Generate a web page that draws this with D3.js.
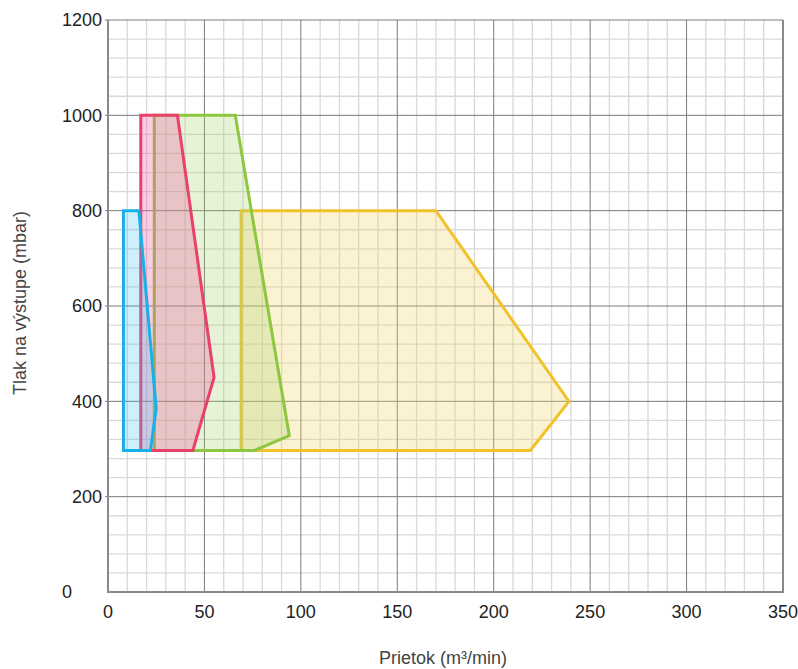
<!DOCTYPE html>
<html>
<head>
<meta charset="utf-8">
<script src="https://cdn.jsdelivr.net/npm/d3@7"></script>
<style>
  body { margin: 0; background: #fff; }
  text { font-family: "Liberation Sans", Arial, sans-serif; }
</style>
</head>
<body>
<div id="chart"></div>
<script>
// operating envelopes, drawn back to front
const seriesNames = ["yellow", "green", "pink", "blue"];
const yellowPts = [[69, 297], [69, 800], [170, 800], [239, 400], [219, 297]];
const greenPts = [[24, 297], [24, 1000], [66, 1000], [94, 328], [76, 297]];
const pinkPts = [[17, 297], [17, 1000], [36, 1000], [55, 450], [44, 297]];
const bluePts = [[8, 297], [8, 800], [16, 800], [25, 385], [22, 297]];
const xTicks = [0, 50, 100, 150, 200, 250, 300, 350];
const yTicks = [0, 200, 400, 600, 800, 1000, 1200];

const width = 798, height = 669;
const margin = {top: 20, right: 15, bottom: 77, left: 108};

const x = d3.scaleLinear().domain([0, 350]).range([margin.left, width - margin.right]);
const y = d3.scaleLinear().domain([0, 1200]).range([height - margin.bottom, margin.top]);

const svg = d3.select("#chart").append("svg")
    .attr("width", width)
    .attr("height", height);

// minor grid
const grid = svg.append("g");
grid.selectAll("line.vx")
    .data(d3.range(10, 350, 10).filter(v => v % 50 !== 0))
    .join("line")
    .attr("x1", d => x(d)).attr("x2", d => x(d))
    .attr("y1", y(0)).attr("y2", y(1200))
    .attr("stroke", "#d9d9d9").attr("stroke-width", 1.3);
grid.selectAll("line.hy")
    .data(d3.range(40, 1200, 40).filter(v => v % 200 !== 0))
    .join("line")
    .attr("y1", d => y(d)).attr("y2", d => y(d))
    .attr("x1", x(0)).attr("x2", x(350))
    .attr("stroke", "#d9d9d9").attr("stroke-width", 1.3);

// major grid
grid.selectAll("line.mx")
    .data(xTicks.slice(1))
    .join("line")
    .attr("x1", d => x(d)).attr("x2", d => x(d))
    .attr("y1", y(0)).attr("y2", y(1200))
    .attr("stroke", "#7a7a7a").attr("stroke-width", 1);
grid.selectAll("line.my")
    .data(yTicks.slice(1))
    .join("line")
    .attr("y1", d => y(d)).attr("y2", d => y(d))
    .attr("x1", x(0) - 3).attr("x2", x(350))
    .attr("stroke", "#7a7a7a").attr("stroke-width", 1);

// polygons
const styles = {
    yellow: {stroke: "#f0c22c", fill: "#f2d36a", op: 0.3},
    green:  {stroke: "#8dc63f", fill: "#a8d26a", op: 0.27},
    pink:   {stroke: "#e9406c", fill: "#ee5a9e", op: 0.3},
    blue:   {stroke: "#17b1e8", fill: "#3cc0ee", op: 0.25}
};
const allPts = [yellowPts, greenPts, pinkPts, bluePts];
const line = d3.line().x(d => x(d[0])).y(d => y(d[1])).curve(d3.curveLinearClosed);

svg.append("g").selectAll("path")
    .data(allPts)
    .join("path")
    .attr("d", line)
    .attr("fill", (d, i) => styles[seriesNames[i]].fill)
    .attr("fill-opacity", (d, i) => styles[seriesNames[i]].op)
    .attr("stroke", (d, i) => styles[seriesNames[i]].stroke)
    .attr("stroke-width", 3)
    .attr("stroke-linejoin", "miter");

// axis frame
svg.append("line")
    .attr("x1", x(0)).attr("x2", x(0)).attr("y1", y(0) + 1).attr("y2", y(1200))
    .attr("stroke", "#8a8a8a").attr("stroke-width", 2);
svg.append("line")
    .attr("x1", x(0)).attr("x2", x(350) + 1).attr("y1", y(0)).attr("y2", y(0))
    .attr("stroke", "#8a8a8a").attr("stroke-width", 2);
svg.append("line")
    .attr("x1", x(350)).attr("x2", x(350)).attr("y1", y(0)).attr("y2", y(1200))
    .attr("stroke", "#8a8a8a").attr("stroke-width", 2);

// tick labels
svg.append("g").selectAll("text")
    .data(xTicks)
    .join("text")
    .attr("x", d => x(d))
    .attr("y", y(0) + 26)
    .attr("text-anchor", "middle")
    .attr("font-size", 18)
    .attr("fill", "#222")
    .text(d => d);

// the "0" label sits further left in the original
svg.append("g").selectAll("text")
    .data(yTicks)
    .join("text")
    .attr("x", d => d === 0 ? x(0) - 36 : x(0) - 6)
    .attr("y", d => y(d))
    .attr("dy", "0.35em")
    .attr("text-anchor", "end")
    .attr("font-size", 18)
    .attr("fill", "#222")
    .text(d => d);

// axis titles
svg.append("text")
    .attr("x", 443)
    .attr("y", 664)
    .attr("text-anchor", "middle")
    .attr("font-size", 18)
    .attr("fill", "#444")
    .text("Prietok (m³/min)");

svg.append("text")
    .attr("transform", `translate(26, 303) rotate(-90)`)
    .attr("text-anchor", "middle")
    .attr("font-size", 18)
    .attr("fill", "#444")
    .text("Tlak na výstupe (mbar)");
</script>
</body>
</html>
